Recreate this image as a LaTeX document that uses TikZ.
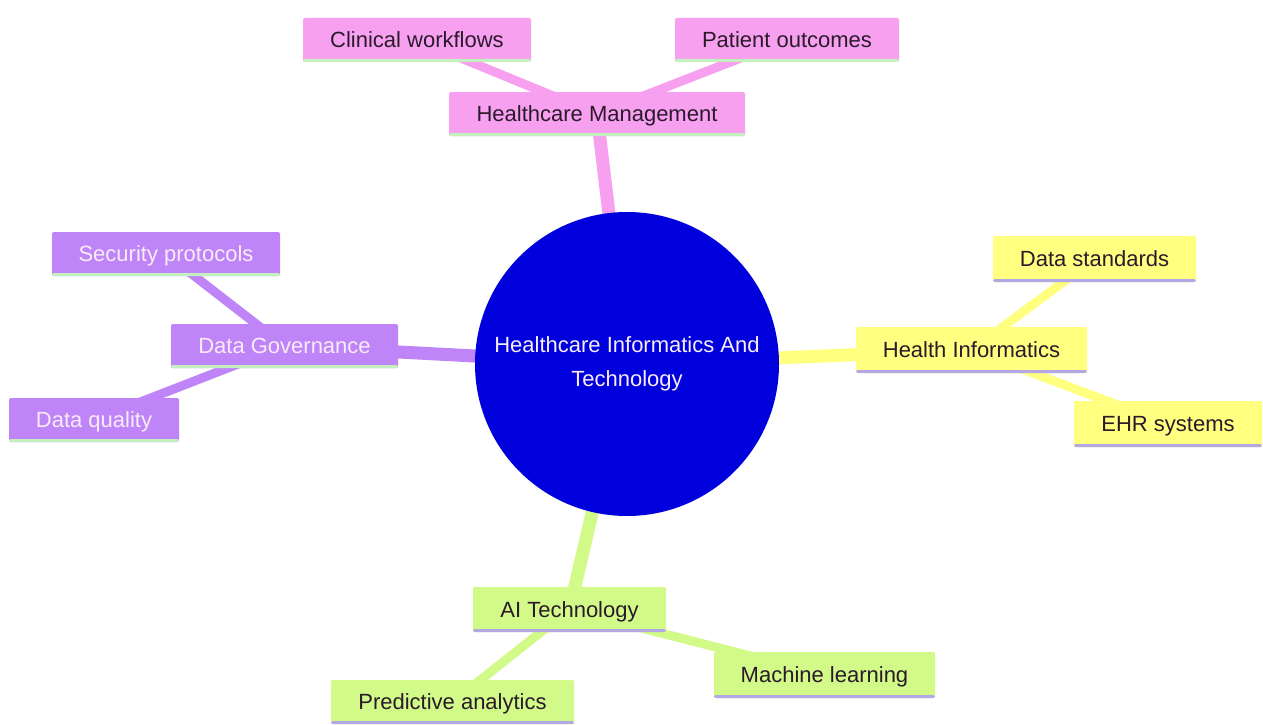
\documentclass[tikz,border=0pt]{standalone}
\usepackage{fontspec}
\setmainfont{Liberation Sans}
\definecolor{pinkc}{HTML}{F7A0F0}
\definecolor{yelc}{HTML}{FFFF80}
\definecolor{purc}{HTML}{BF84F8}
\definecolor{grnc}{HTML}{D2FA88}
\definecolor{bluec}{HTML}{0000DC}
\definecolor{ulgreen}{HTML}{C4F0C0}
\definecolor{ullav}{HTML}{B4A8E4}
\definecolor{darktxt}{HTML}{2A1A2A}
\definecolor{lighttxt}{HTML}{F8ECF8}
\pgfdeclarelayer{bg}
\pgfsetlayers{bg,main}
\tikzset{
  box/.style={rectangle, rounded corners=2pt, inner sep=0pt, minimum height=44pt,
    font=\fontsize{22}{26}\selectfont, text=darktxt, text height=15.5pt, text depth=0pt},
  ulbox/.style={path picture={\fill[#1] (path picture bounding box.south west) rectangle ([yshift=3pt]path picture bounding box.south east);}},
  pinkbox/.style={box, fill=pinkc, ulbox=ulgreen},
  yelbox/.style={box, fill=yelc, ulbox=ullav},
  purbox/.style={box, fill=purc, ulbox=ulgreen, text=lighttxt},
  grnbox/.style={box, fill=grnc, ulbox=ullav},
  mainlink/.style={line width=13pt},
  sublink/.style={line width=9pt},
}
\begin{document}
\begin{tikzpicture}[x=1pt,y=-1pt]
\useasboundingbox (0,0) rectangle (1263,725);
\node[circle, fill=bluec, minimum size=304pt, inner sep=0pt, text=lighttxt, align=center,
  font=\fontsize{22}{34}\selectfont] (root) at (627,364) {Healthcare Informatics And\\Technology};
\path
  (597,114) node[pinkbox, minimum width=296pt] (hm) {Healthcare Management}
  (417,40) node[pinkbox, minimum width=228pt] (cw) {Clinical workflows}
  (787,40) node[pinkbox, minimum width=224pt] (po) {Patient outcomes}
  (971.5,350) node[yelbox, minimum width=231pt, minimum height=46pt] (hi) {Health Informatics}
  (1094.5,259) node[yelbox, minimum width=203pt, minimum height=46pt] (ds) {Data standards}
  (1168,424) node[yelbox, minimum width=188pt, minimum height=46pt] (ehr) {EHR systems}
  (569.5,609.5) node[grnbox, minimum width=193pt, minimum height=45pt] (ai) {AI Technology}
  (824.5,675) node[grnbox, minimum width=221pt, minimum height=46pt] (ml) {Machine learning}
  (452.5,702) node[grnbox, minimum width=243pt] (pa) {Predictive analytics}
  (284.5,346) node[purbox, minimum width=227pt] (dg) {Data Governance}
  (166,254) node[purbox, minimum width=228pt] (sp) {Security protocols}
  (94,420) node[purbox, minimum width=170pt] (dq) {Data quality};
\begin{pgfonlayer}{bg}
  \fill[white] (0,0) rectangle (1263,725);
  \draw[pinkc, mainlink] (root.center) -- (hm.center);
  \draw[pinkc, sublink] (hm.center) -- (cw.center);
  \draw[pinkc, sublink] (hm.center) -- (po.center);
  \draw[yelc, mainlink] (root.center) -- (hi.center);
  \draw[yelc, sublink] (hi.center) -- (ds.center);
  \draw[yelc, sublink] (hi.center) -- (ehr.center);
  \draw[grnc, mainlink] (root.center) -- (ai.center);
  \draw[grnc, sublink] (ai.center) -- (ml.center);
  \draw[grnc, sublink] (ai.center) -- (pa.center);
  \draw[purc, mainlink] (root.center) -- (dg.center);
  \draw[purc, sublink] (dg.center) -- (sp.center);
  \draw[purc, sublink] (dg.center) -- (dq.center);
\end{pgfonlayer}
\end{tikzpicture}
\end{document}
